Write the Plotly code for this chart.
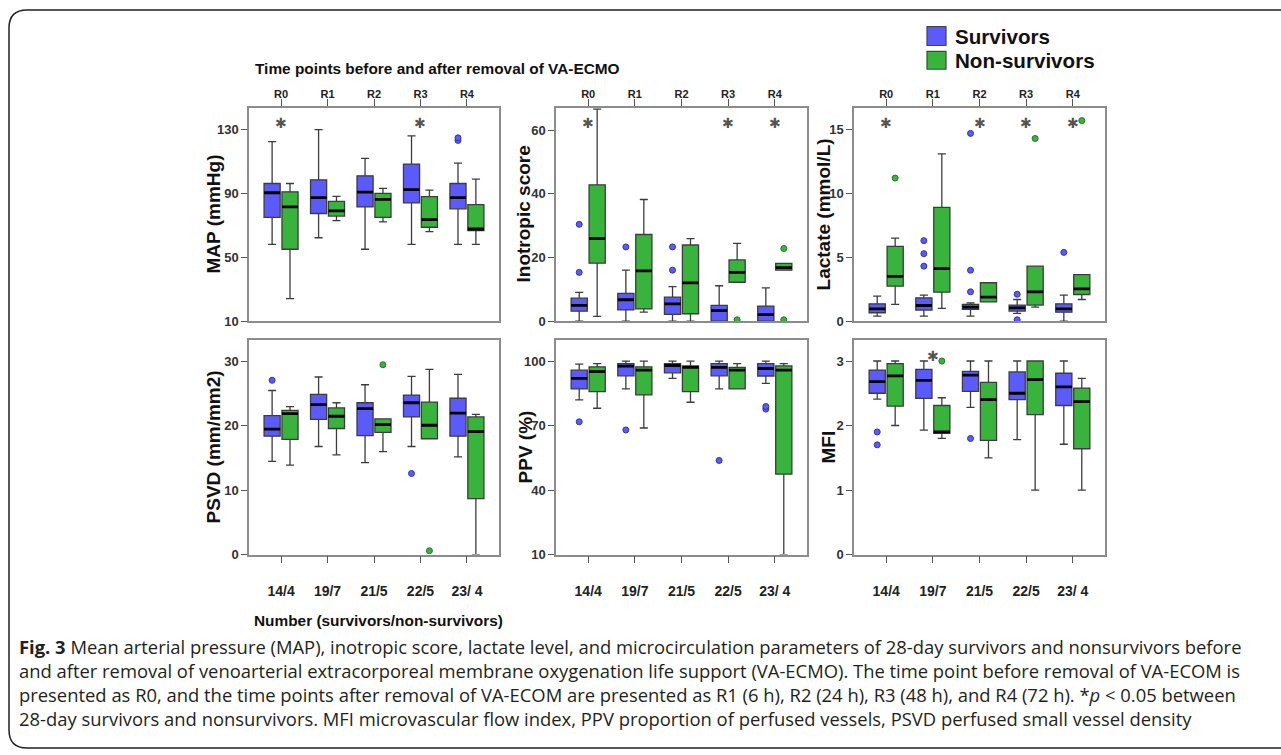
import plotly.graph_objects as go

# ---------------- data ----------------
time_points = ["R0", "R1", "R2", "R3", "R4"]
group_sizes = ["14/4", "19/7", "21/5", "22/5", "23/ 4"]

# MAP (mmHg)
map_s_low = [58, 62.2, 55, 58, 58]
map_s_q1 = [75, 77.4, 81.5, 84, 80.3]
map_s_med = [90.4, 87.3, 90.8, 92.3, 87.3]
map_s_q3 = [96.2, 98.5, 101, 108.4, 96.2]
map_s_up = [122.4, 130, 112, 126, 109]
map_s_out = [[], [], [], [], [124.8, 123.2]]
map_n_low = [24, 72.9, 72.1, 66, 58]
map_n_q1 = [55, 75.8, 75, 68.8, 66.7]
map_n_med = [81.5, 79, 86.3, 73.5, 67.7]
map_n_q3 = [91, 85, 90, 88, 83]
map_n_up = [96.2, 88.1, 93.1, 92, 99]
map_n_out = [[], [], [], [], []]
map_sig = ["R0", "R3"]

# Inotropic score
ino_s_low = [0, 0, 0, 0, 0]
ino_s_q1 = [3.1, 3.5, 2.1, 0, 0]
ino_s_med = [4.9, 6.7, 5.4, 3.3, 2.0]
ino_s_q3 = [7.2, 8.7, 7.5, 4.9, 4.7]
ino_s_up = [9, 16, 10.8, 11.1, 10.4]
ino_s_out = [[30.4, 15.3], [23.3], [23.3, 16], [], []]
ino_n_low = [1.5, 2.8, 0, 12.2, 16]
ino_n_q1 = [18.2, 3.8, 2.3, 12.2, 16]
ino_n_med = [25.9, 15.8, 12, 15.3, 16.8]
ino_n_q3 = [42.8, 27.2, 23.9, 19.2, 18.1]
ino_n_up = [66.6, 38.2, 25.9, 24.4, 18.1]
ino_n_out = [[], [], [], [0.4], [22.8, 0.4]]
ino_sig = ["R0", "R3", "R4"]

# Lactate (mmol/L)
lac_s_low = [0.39, 0.39, 0.39, 0.6, 0]
lac_s_q1 = [0.65, 0.86, 0.91, 0.78, 0.7]
lac_s_med = [0.96, 1.22, 1.09, 1.04, 0.96]
lac_s_q3 = [1.35, 1.82, 1.3, 1.25, 1.35]
lac_s_up = [1.95, 2.03, 1.43, 1.69, 2.03]
lac_s_out = [[], [6.3, 5.28, 4.3], [14.7, 3.98, 2.29], [2.1, 0.1], [5.38]]
lac_n_low = [1.3, 0.99, 1.5, 1.09, 1.69]
lac_n_q1 = [2.73, 2.26, 1.5, 1.25, 2.08]
lac_n_med = [3.5, 4.1, 1.87, 2.29, 2.52]
lac_n_q3 = [5.85, 8.9, 3.0, 4.3, 3.64]
lac_n_up = [6.5, 13.1, 3.0, 4.3, 3.64]
lac_n_out = [[11.2], [], [], [14.3], [15.7]]
lac_sig = ["R0", "R2", "R3", "R4"]

# PSVD (mm/mm2)
psvd_s_low = [14.5, 16.8, 14.3, 16.8, 15.2]
psvd_s_q1 = [18.4, 21, 18.5, 21.4, 18.4]
psvd_s_med = [19.5, 23.3, 22.7, 23.6, 22]
psvd_s_q3 = [21.6, 24.9, 23.6, 24.8, 24.3]
psvd_s_up = [25.5, 27.6, 26.4, 27.7, 28]
psvd_s_out = [[27.1], [], [], [12.6], []]
psvd_n_low = [13.9, 15.5, 16, 18, 0]
psvd_n_q1 = [17.9, 19.6, 19, 18, 8.7]
psvd_n_med = [21.9, 21.5, 20.2, 20.1, 19.1]
psvd_n_q3 = [22.4, 22.8, 21.1, 23.7, 21.4]
psvd_n_up = [23, 23.6, 21.1, 28.8, 21.8]
psvd_n_out = [[], [], [29.5], [0.6], []]
psvd_sig = []

# PPV (%)
ppv_s_low = [82, 87.1, 92, 87.1, 89.7]
ppv_s_q1 = [87.1, 93.2, 94.6, 93.2, 93.1]
ppv_s_med = [92, 97.7, 98, 97.1, 96.6]
ppv_s_q3 = [95.8, 98.9, 98.9, 98.9, 98.9]
ppv_s_up = [98.6, 100, 100, 100, 100]
ppv_s_out = [[71.8], [68], [], [53.8], [78.9, 77.7]]
ppv_n_low = [78.1, 68.9, 80.9, 87.1, 10]
ppv_n_q1 = [85.8, 84.3, 85.8, 87.1, 47.4]
ppv_n_med = [95.1, 95.8, 97.1, 95.8, 95.8]
ppv_n_q3 = [97.4, 97.4, 97.8, 97.1, 97.8]
ppv_n_up = [98.9, 100, 100, 98.9, 98.9]
ppv_n_out = [[], [], [], [], []]
ppv_sig = []

# MFI
mfi_s_low = [2.41, 1.93, 2.28, 1.78, 1.71]
mfi_s_q1 = [2.5, 2.42, 2.53, 2.4, 2.31]
mfi_s_med = [2.68, 2.7, 2.78, 2.5, 2.6]
mfi_s_q3 = [2.86, 2.87, 2.84, 2.83, 2.81]
mfi_s_up = [3, 3, 3, 3, 3]
mfi_s_out = [[1.9, 1.7], [], [1.8], [], []]
mfi_n_low = [2.0, 1.8, 1.5, 1.0, 1.0]
mfi_n_q1 = [2.3, 1.88, 1.77, 2.17, 1.64]
mfi_n_med = [2.77, 1.9, 2.4, 2.71, 2.37]
mfi_n_q3 = [2.96, 2.31, 2.67, 3.0, 2.58]
mfi_n_up = [3.0, 2.43, 3.0, 3.0, 2.73]
mfi_n_out = [[], [3.0], [], [], []]
mfi_sig = ["19/7"]

caption_lines = [
    "<b>Fig. 3</b> Mean arterial pressure (MAP), inotropic score, lactate level, and microcirculation parameters of 28-day survivors and nonsurvivors before",
    "and after removal of venoarterial extracorporeal membrane oxygenation life support (VA-ECMO). The time point before removal of VA-ECOM is",
    "presented as R0, and the time points after removal of VA-ECOM are presented as R1 (6 h), R2 (24 h), R3 (48 h), and R4 (72 h). *<i>p</i> &lt; 0.05 between",
    "28-day survivors and nonsurvivors. MFI microvascular flow index, PPV proportion of perfused vessels, PSVD perfused small vessel density",
]

# ---------------- style / layout ----------------
W, H = 1281, 755
def fx(p):
    return p / W
def fy(p):
    return 1 - p / H

BLUE = "#5b5bfb"
BLUE_D = "#3232b0"
GREEN = "#38b43c"
GREEN_D = "#1f7a23"
AX_FONT = "Liberation Sans, Arial, sans-serif"

col_px = [(249, 499), (556, 807), (854, 1105)]
row_px = [(109, 324.5), (344, 560.5)]

panels = [
    dict(title="MAP (mmHg)", row=0, col=0, cats=time_points, rng=[10, 143.6], ticks=[10, 50, 90, 130], tx=213,
         s=(map_s_low, map_s_q1, map_s_med, map_s_q3, map_s_up, map_s_out),
         n=(map_n_low, map_n_q1, map_n_med, map_n_q3, map_n_up, map_n_out), sig=map_sig),
    dict(title="Inotropic score", row=0, col=1, cats=time_points, rng=[0, 67], ticks=[0, 20, 40, 60], tx=523,
         s=(ino_s_low, ino_s_q1, ino_s_med, ino_s_q3, ino_s_up, ino_s_out),
         n=(ino_n_low, ino_n_q1, ino_n_med, ino_n_q3, ino_n_up, ino_n_out), sig=ino_sig),
    dict(title="Lactate (mmol/L)", row=0, col=2, cats=time_points, rng=[0, 16.7], ticks=[0, 5, 10, 15], tx=823,
         s=(lac_s_low, lac_s_q1, lac_s_med, lac_s_q3, lac_s_up, lac_s_out),
         n=(lac_n_low, lac_n_q1, lac_n_med, lac_n_q3, lac_n_up, lac_n_out), sig=lac_sig),
    dict(title="PSVD (mm/mm2)", row=1, col=0, cats=group_sizes, rng=[0, 33.3], ticks=[0, 10, 20, 30], tx=213,
         s=(psvd_s_low, psvd_s_q1, psvd_s_med, psvd_s_q3, psvd_s_up, psvd_s_out),
         n=(psvd_n_low, psvd_n_q1, psvd_n_med, psvd_n_q3, psvd_n_up, psvd_n_out), sig=psvd_sig),
    dict(title="PPV (%)", row=1, col=1, cats=group_sizes, rng=[10, 109.7], ticks=[10, 40, 70, 100], tx=525,
         s=(ppv_s_low, ppv_s_q1, ppv_s_med, ppv_s_q3, ppv_s_up, ppv_s_out),
         n=(ppv_n_low, ppv_n_q1, ppv_n_med, ppv_n_q3, ppv_n_up, ppv_n_out), sig=ppv_sig),
    dict(title="MFI", row=1, col=2, cats=group_sizes, rng=[0, 3.32], ticks=[0, 1, 2, 3], tx=828,
         s=(mfi_s_low, mfi_s_q1, mfi_s_med, mfi_s_q3, mfi_s_up, mfi_s_out),
         n=(mfi_n_low, mfi_n_q1, mfi_n_med, mfi_n_q3, mfi_n_up, mfi_n_out), sig=mfi_sig),
]

fig = go.Figure()
layout = dict(
    width=W, height=H, autosize=False,
    margin=dict(l=0, r=0, t=0, b=0),
    paper_bgcolor="white", plot_bgcolor="white",
    boxmode="group", boxgap=0.23, boxgroupgap=0.1,
    showlegend=False,
)
annotations = []
shapes = []

for k, p in enumerate(panels, start=1):
    xa = "x" if k == 1 else f"x{k}"
    ya = "y" if k == 1 else f"y{k}"
    xkey = "xaxis" if k == 1 else f"xaxis{k}"
    ykey = "yaxis" if k == 1 else f"yaxis{k}"
    for grp, fill, dark, og in (("s", BLUE, BLUE_D, "surv"), ("n", GREEN, GREEN_D, "non")):
        low, q1, med, q3, up, out = p[grp]
        # plotly needs each row of the 2-D sample array to be non-empty
        pts = [o if o else [None] for o in out]
        fig.add_trace(go.Box(
            x=p["cats"], y=pts, q1=q1, median=med, q3=q3, lowerfence=low, upperfence=up,
            orientation="v", boxpoints="outliers", jitter=0, pointpos=0,
            fillcolor=fill, line=dict(color="#3c3c3c", width=1.3), whiskerwidth=0.5,
            marker=dict(color=fill, size=6, line=dict(color=dark, width=1)),
            offsetgroup=og, xaxis=xa, yaxis=ya, hoverinfo="skip", showlegend=False,
        ))
        # thick black median line
        fig.add_trace(go.Box(
            x=p["cats"], q1=med, median=med, q3=med, lowerfence=med, upperfence=med,
            orientation="v", boxpoints=False,
            fillcolor="rgba(0,0,0,0)", line=dict(color="black", width=2.8), whiskerwidth=0,
            offsetgroup=og, xaxis=xa, yaxis=ya, hoverinfo="skip", showlegend=False,
        ))
    x0, x1 = col_px[p["col"]]
    y0, y1 = row_px[p["row"]]
    top = p["row"] == 0
    layout[xkey] = dict(
        domain=[fx(x0), fx(x1)], anchor=ya, type="category",
        categoryorder="array", categoryarray=p["cats"], range=[-0.69, 4.69],
        side="top" if top else "bottom",
        showline=True, linecolor="#8c8c8c", linewidth=1.5, mirror=True,
        ticks="outside", ticklen=7, tickcolor="#555555", tickwidth=1.3,
        ticklabelstandoff=-3 if top else 16,
        showgrid=False, zeroline=False,
        tickfont=dict(family=AX_FONT, size=11 if top else 14, color="#222222", weight="bold"),
    )
    layout[ykey] = dict(
        domain=[fy(y1), fy(y0)], anchor=xa, range=p["rng"], tickvals=p["ticks"],
        showline=True, linecolor="#8c8c8c", linewidth=1.5, mirror=True,
        ticks="outside", ticklen=6, tickcolor="#555555", tickwidth=1.3,
        showgrid=False, zeroline=False,
        tickfont=dict(family=AX_FONT, size=13, color="#333333", weight="bold"),
    )
    annotations.append(dict(
        text=f"<b>{p['title']}</b>", xref="paper", yref="paper",
        x=fx(p["tx"]), y=fy((y0 + y1) / 2), xanchor="center", yanchor="middle",
        textangle=-90, showarrow=False, font=dict(family=AX_FONT, size=19, color="#111111"),
    ))
    for c in p["sig"]:
        annotations.append(dict(
            text="✱", xref=xa, yref=f"{ya} domain", x=c, y=0.928,
            xanchor="center", yanchor="middle", showarrow=False,
            font=dict(family="DejaVu Sans", size=14, color="#555555"),
        ))

# header / axis captions
annotations.append(dict(
    text="<b>Time points before and after removal of VA-ECMO</b>", xref="paper", yref="paper",
    x=fx(253), y=fy(69), xanchor="left", yanchor="middle", showarrow=False,
    font=dict(family=AX_FONT, size=15.4, color="#111111"),
))
annotations.append(dict(
    text="<b>Number (survivors/non-survivors)</b>", xref="paper", yref="paper",
    x=fx(252), y=fy(627), xanchor="left", yanchor="middle", showarrow=False,
    font=dict(family=AX_FONT, size=15.4, color="#111111"),
))

# legend
for (ytop, ybot), col, label in (((27, 46), BLUE, "Survivors"), ((52, 70), GREEN, "Non-survivors")):
    shapes.append(dict(type="rect", xref="paper", yref="paper",
                       x0=fx(927), x1=fx(946), y0=fy(ybot), y1=fy(ytop),
                       fillcolor=col, line=dict(color="#444444", width=1.2)))
    annotations.append(dict(
        text=f"<b>{label}</b>", xref="paper", yref="paper", x=fx(953), y=fy((ytop + ybot) / 2),
        xanchor="left", yanchor="middle", showarrow=False,
        font=dict(family=AX_FONT, size=20.6, color="#111111"),
    ))

# caption (one block of four lines)
annotations.append(dict(
    text="<br>".join(caption_lines), xref="paper", yref="paper", x=fx(17), y=fy(689.5),
    xanchor="left", yanchor="middle", showarrow=False, align="left",
    font=dict(family="Open Sans", size=18.4, color="#231f20"),
))

# rounded frame
shapes.append(dict(
    type="path", xref="paper", yref="paper", xsizemode="pixel", ysizemode="pixel",
    xanchor=0, yanchor=1,
    path="M 1300,-10 L 27,-10 Q 9,-10 9,-28 L 9,-730 Q 9,-748 27,-748 L 1300,-748",
    line=dict(color="#222222", width=1.5),
))

layout["annotations"] = annotations
layout["shapes"] = shapes
fig.update_layout(**layout)

fig.write_html("out.html", config={"displayModeBar": False},
               post_script="document.body.style.margin='0';document.body.style.overflow='hidden';")
